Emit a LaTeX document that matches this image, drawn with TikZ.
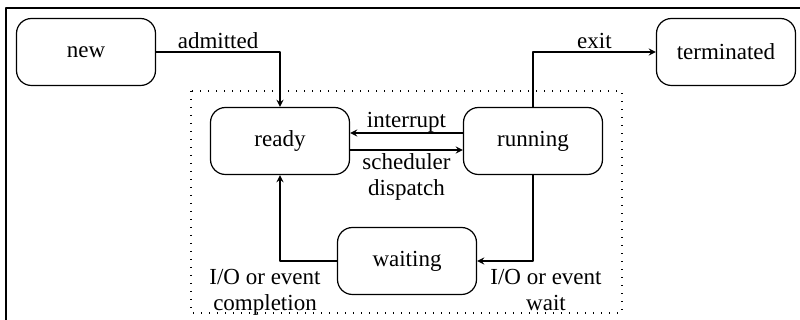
\documentclass[tikz,border=0pt]{standalone}
\usepackage{fontspec}
\setmainfont{Liberation Serif}
\begin{document}
\begin{tikzpicture}[x=0.5pt,y=-0.5pt,line join=round,>=stealth,font=\fontsize{11.5}{13}\selectfont,
    state/.style={draw,rounded corners=7.5pt,minimum width=69.5pt,minimum height=33.5pt,inner sep=0pt,line width=0.6pt},
    link/.style={->,line width=0.6pt},
    lbl/.style={inner sep=1.5pt,align=center},
    pool/.style={dash pattern=on 0.6pt off 3.4pt,line width=0.6pt}]
	\useasboundingbox (0,0) rectangle (800,320);
	\draw[line width=0.8pt] (6,320) -- (6,8) -- (800,8);
	\draw[pool] (191,91) rectangle (622,313);
	% states
	\node[state] (new) at (86,52) {new};
	\node[state] (terminated) at (726,52) {terminated};
	\node[state] (ready) at (280,141) {ready};
	\node[state] (running) at (533,141) {running};
	\node[state] (waiting) at (407,261) {waiting};
	% transitions
	\draw[link] (new) -| node[lbl,pos=0.25,above] {admitted} (ready);
	\draw[link] (running) |- node[lbl,pos=0.75,above] {exit} (terminated);
	\draw[link] ([yshift=4pt]running.west) -- node[lbl,above,inner sep=0pt] {interrupt} ([yshift=4pt]ready.east);
	\draw[link] ([yshift=-4.5pt]ready.east) -- node[lbl,below] {scheduler\\dispatch} ([yshift=-4.5pt]running.west);
	\draw[link] (running) |- node[lbl,pos=0.5,below,xshift=6.5pt,yshift=-2.5pt] {I/O or event\\wait} (waiting);
	\draw[link] (waiting) -| node[lbl,pos=0.5,below,xshift=-7.5pt,yshift=-2.5pt] {I/O or event\\completion} (ready);
\end{tikzpicture}
\end{document}
